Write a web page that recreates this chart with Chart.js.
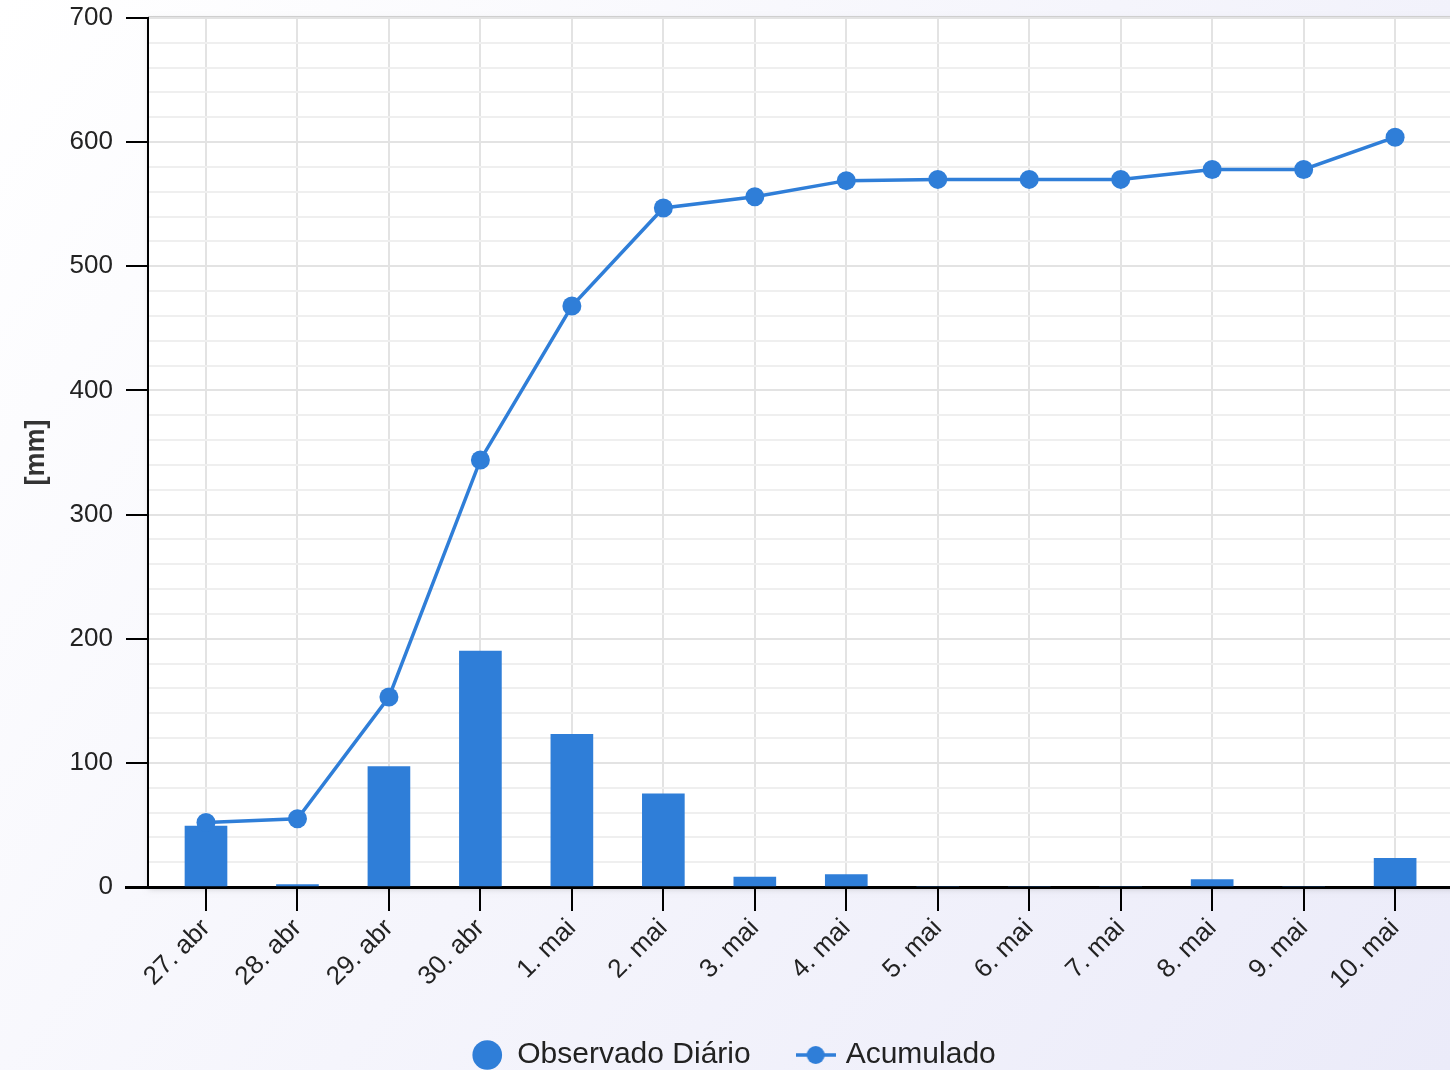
<!DOCTYPE html>
<html>
<head>
<meta charset="utf-8">
<script src="https://cdn.jsdelivr.net/npm/chart.js@4.4.1/dist/chart.umd.min.js"></script>
<style>
  html, body { margin: 0; padding: 0; overflow: hidden; background: #fff; }
  #wrap { width: 1450px; height: 1070px; }
</style>
</head>
<body>
<div id="wrap"><canvas id="chuva" width="1450" height="1070"></canvas></div>
<script>
const dias = ['27. abr', '28. abr', '29. abr', '30. abr', '1. mai', '2. mai', '3. mai',
              '4. mai', '5. mai', '6. mai', '7. mai', '8. mai', '9. mai', '10. mai'];
const observado = [49, 2, 97, 190, 123, 75, 8, 10, 0, 0, 0, 6, 0, 23];
const acumulado = [52, 55, 153, 344, 468, 547, 556, 569, 570, 570, 570, 578, 578, 604];
const yTicks = [0, 100, 200, 300, 400, 500, 600, 700];

const azul = '#2f7ed8';
const fonte = '"Liberation Sans", Arial, sans-serif';

// legend icon for the line series: short line with a dot
const iconeLinha = document.createElement('canvas');
iconeLinha.width = 40;
iconeLinha.height = 22;
(function () {
    const c = iconeLinha.getContext('2d');
    c.strokeStyle = azul;
    c.lineWidth = 3.5;
    c.beginPath();
    c.moveTo(0, 11);
    c.lineTo(40, 11);
    c.stroke();
    c.fillStyle = azul;
    c.beginPath();
    c.arc(20, 11, 9, 0, Math.PI * 2);
    c.fill();
})();

const fundo = {
    id: 'fundo',
    afterLayout(chart) {
        // legend sits slightly right of centre in the original
        if (chart.legend) {
            chart.legend.left += 9;
            chart.legend.right += 9;
        }
    },
    beforeDraw(chart) {
        const ctx = chart.ctx;
        const a = chart.chartArea;
        ctx.save();
        const g = ctx.createLinearGradient(0, 0, chart.width, chart.height);
        g.addColorStop(0, '#ffffff');
        g.addColorStop(1, '#ebebf9');
        ctx.fillStyle = g;
        ctx.fillRect(0, 0, chart.width, chart.height);

        ctx.shadowColor = 'rgba(0,0,0,0.18)';
        ctx.shadowBlur = 6;
        ctx.shadowOffsetX = 1;
        ctx.shadowOffsetY = 2;
        ctx.fillStyle = '#ffffff';
        ctx.fillRect(a.left, a.top, chart.width - a.left + 10, a.bottom - a.top);
        ctx.restore();

        ctx.save();
        ctx.strokeStyle = '#cfcfcf';
        ctx.lineWidth = 2;
        ctx.beginPath();
        ctx.moveTo(a.left, a.top - 1);
        ctx.lineTo(chart.width, a.top - 1);
        ctx.stroke();
        ctx.restore();
    },
    afterDraw(chart) {
        // x axis line runs a little past the y axis, as in the original
        const ctx = chart.ctx;
        const a = chart.chartArea;
        ctx.save();
        ctx.strokeStyle = '#000';
        ctx.lineWidth = 3;
        ctx.beginPath();
        ctx.moveTo(a.left - 23, a.bottom + 0.5);
        ctx.lineTo(a.left, a.bottom + 0.5);
        ctx.stroke();
        ctx.restore();
    }
};

document.addEventListener('DOMContentLoaded', () => {
    new Chart(document.getElementById('chuva'), {
        type: 'bar',
        data: {
            datasets: [
                {
                    type: 'line',
                    label: 'Acumulado',
                    data: acumulado.map((v, i) => ({ x: i, y: v })),
                    borderColor: azul,
                    backgroundColor: azul,
                    borderWidth: 3.5,
                    pointRadius: 9.5,
                    pointHoverRadius: 9.5,
                    pointBorderWidth: 0,
                    pointStyle: 'circle',
                    tension: 0
                },
                {
                    type: 'bar',
                    label: 'Observado Diário',
                    data: observado.map((v, i) => ({ x: i, y: v })),
                    backgroundColor: azul,
                    borderWidth: 0,
                    barThickness: 42,
                    pointStyle: 'circle'
                }
            ]
        },
        options: {
            responsive: false,
            animation: false,
            devicePixelRatio: 1,
            layout: { autoPadding: false, padding: { top: 18, right: 0, left: 0, bottom: -10 } },
            scales: {
                x: {
                    type: 'linear',
                    offset: false,
                    min: -0.634,
                    max: 13.6,
                    afterBuildTicks(scale) {
                        scale.ticks = dias.map((_, i) => ({ value: i }));
                    },
                    afterFit(scale) {
                        scale.height = 103;
                        scale.paddingLeft = 0;
                        scale.paddingRight = 0;
                    },
                    ticks: {
                        autoSkip: false,
                        minRotation: 45,
                        maxRotation: 45,
                        padding: 2,
                        color: '#222',
                        font: { family: fonte, size: 26 },
                        callback: (v) => dias[v] || ''
                    },
                    grid: {
                        offset: false,
                        color: '#e3e3e3',
                        lineWidth: 2,
                        tickColor: '#000',
                        tickLength: 24,
                        tickWidth: 2
                    },
                    border: { color: '#000', width: 3 }
                },
                y: {
                    min: 0,
                    max: 700,
                    afterBuildTicks(scale) {
                        const t = [];
                        for (let v = 0; v <= 700; v += 20) t.push({ value: v });
                        scale.ticks = t;
                    },
                    afterFit(scale) {
                        scale.width = 148;
                        scale.paddingTop = 0;
                        scale.paddingBottom = 0;
                    },
                    ticks: {
                        autoSkip: false,
                        padding: 13,
                        color: '#222',
                        font: { family: fonte, size: 26 },
                        callback: (v) => yTicks.includes(v) ? String(v) : ''
                    },
                    grid: {
                        color: (c) => (c.tick && c.tick.value % 100 === 0) ? '#e3e3e3' : '#efefef',
                        lineWidth: 2,
                        tickLength: 22,
                        tickWidth: 2,
                        tickColor: (c) => (c.tick && c.tick.value % 100 === 0) ? '#000' : 'rgba(0,0,0,0)'
                    },
                    border: { color: '#000', width: 2 },
                    title: {
                        display: true,
                        text: '[mm]',
                        color: '#333',
                        font: { family: fonte, size: 27, weight: 'bold' },
                        padding: { top: 20, bottom: 0 }
                    }
                }
            },
            plugins: {
                tooltip: { enabled: false },
                legend: {
                    position: 'bottom',
                    labels: {
                        usePointStyle: true,
                        boxHeight: 21,
                        padding: 50,
                        color: '#222',
                        font: { family: fonte, size: 30 },
                        sort: (a, b) => b.datasetIndex - a.datasetIndex,
                        generateLabels(chart) {
                            const items = Chart.defaults.plugins.legend.labels.generateLabels(chart);
                            items.forEach((it) => {
                                if (it.datasetIndex === 0) it.pointStyle = iconeLinha;
                            });
                            return items;
                        }
                    }
                }
            }
        },
        plugins: [fundo]
    });
});
</script>
</body>
</html>
